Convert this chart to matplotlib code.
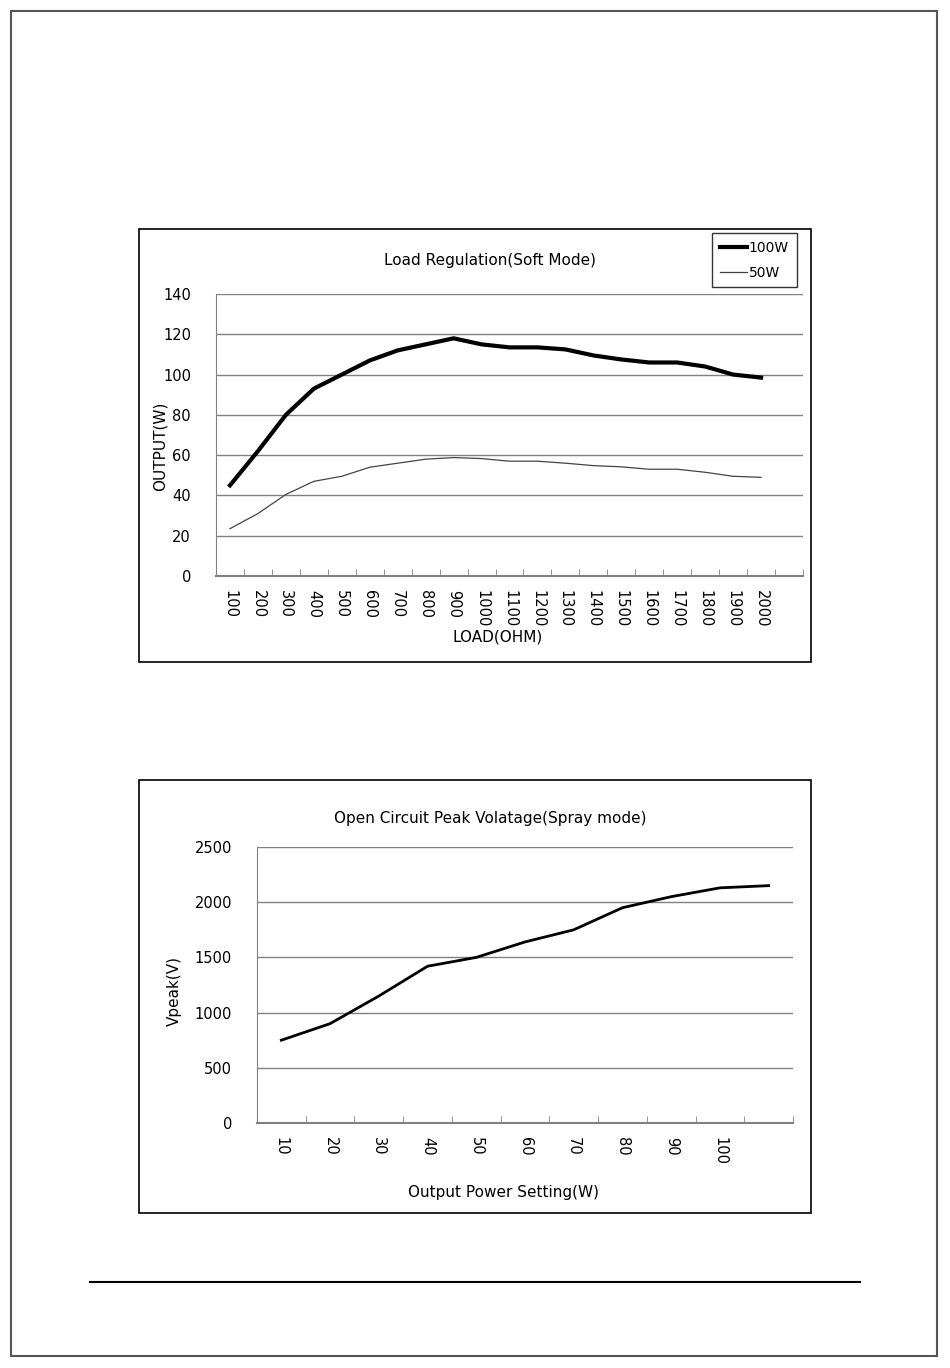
import numpy as np
import matplotlib
matplotlib.use("Agg")
import matplotlib.pyplot as plt
from matplotlib.patches import Rectangle
from matplotlib.lines import Line2D

plt.rcParams['font.family'] = ['DejaVu Sans']

# Chart 1: load regulation
load_labels = ['100', '200', '300', '400', '500', '600', '700', '800', '900', '1000',
               '1100', '1200', '1300', '1400', '1500', '1600', '1700', '1800', '1900', '2000', '']
out_100w = [45, 62, 80, 93, 100, 107, 112, 115, 118, 115,
            113.5, 113.5, 112.5, 109.5, 107.5, 106, 106, 104, 100, 98.5]
out_50w = [23.5, 31, 40.5, 47, 49.5, 54, 56, 58, 58.8, 58.3,
           57, 57, 56, 54.8, 54.2, 53, 53, 51.5, 49.5, 49]

# Chart 2: open circuit peak voltage
power_labels = ['10', '20', '30', '40', '50', '60', '70', '80', '90', '100', '']
vpeak = [750, 900, 1150, 1420, 1500, 1640, 1750, 1950, 2050, 2130, 2150]

W, H = 950, 1368
fig = plt.figure(figsize=(W / 100, H / 100), dpi=100)


def box(x0, y0, x1, y1):
    # pixel box (top-left origin) -> figure fraction
    return [x0 / W, 1 - y1 / H, (x1 - x0) / W, (y1 - y0) / H]


def frame(x0, y0, x1, y1, color='black', lw=1.0):
    fig.add_artist(Rectangle((x0 / W, 1 - y1 / H), (x1 - x0) / W, (y1 - y0) / H,
                             transform=fig.transFigure, fill=False, ec=color, lw=lw))


def style_axes(ax, n, ymax, ystep):
    ax.set_xlim(0, n)
    ax.set_ylim(0, ymax)
    ax.set_yticks(np.arange(0, ymax + 1, ystep))
    ax.yaxis.grid(True, color='#808080', lw=1.0)
    ax.set_axisbelow(True)
    for s in ['top', 'right']:
        ax.spines[s].set_visible(False)
    ax.spines['left'].set_color('#808080')
    ax.spines['bottom'].set_color('#808080')
    ax.spines['bottom'].set_linewidth(1.5)
    ax.tick_params(axis='y', length=0, labelsize=10.5, pad=18)
    # boundary ticks pointing up
    ax.set_xticks(np.arange(1, n + 1), minor=True)
    ax.tick_params(axis='x', which='minor', direction='in', length=5, color='#808080')
    ax.tick_params(axis='x', which='major', length=0, labelsize=10.5, pad=10)
    ax.set_xticks(np.arange(n) + 0.5)


# page border and footer line
frame(11, 11, 937, 1356, color='#555555', lw=1.5)
fig.add_artist(Line2D([90 / W, 860 / W], [1 - 1282 / H, 1 - 1282 / H],
                      transform=fig.transFigure, color='black', lw=1.5))

# ---- top chart ----
frame(139, 229, 811, 662, lw=1.2)
ax1 = fig.add_axes(box(216, 294, 803, 576))
n1 = len(load_labels)
xs1 = np.arange(len(out_100w)) + 0.5
ax1.plot(xs1, out_100w, color='black', lw=3.0, label='100W')
ax1.plot(xs1, out_50w, color='#444444', lw=0.9, label='50W')
style_axes(ax1, n1, 140, 20)
ax1.set_xticklabels(load_labels, rotation=270, va='top', ha='center')
ax1.set_ylabel('OUTPUT(W)', fontsize=11)
ax1.yaxis.set_label_coords(-0.082, 0.46)
ax1.set_xlabel('LOAD(OHM)', fontsize=11)
ax1.xaxis.set_label_coords(0.48, -0.19)
fig.text(490 / W, 1 - 260 / H, 'Load Regulation(Soft Mode)', ha='center', va='center', fontsize=11)
leg = fig.legend(handles=ax1.get_lines(), loc='upper left',
                 bbox_to_anchor=(712 / W, 1 - 233 / H), frameon=True, fancybox=False,
                 edgecolor='black', fontsize=10, handlelength=2.0, handletextpad=0.1,
                 borderpad=0.55, labelspacing=0.8, borderaxespad=0)
leg.get_frame().set_linewidth(1.0)

# ---- bottom chart ----
frame(139, 780, 811, 1213, lw=1.2)
ax2 = fig.add_axes(box(257, 847, 793, 1123))
n2 = len(power_labels)
xs2 = np.arange(len(vpeak)) + 0.5
ax2.plot(xs2, vpeak, color='black', lw=2.0)
style_axes(ax2, n2, 2500, 500)
ax2.set_xticklabels(power_labels, rotation=270, va='top', ha='center')
ax2.set_ylabel('Vpeak(V)', fontsize=11)
ax2.yaxis.set_label_coords(-0.14, 0.48)
ax2.set_xlabel('Output Power Setting(W)', fontsize=11)
ax2.xaxis.set_label_coords(0.46, -0.225)
fig.text(490 / W, 1 - 818 / H, 'Open Circuit Peak Volatage(Spray mode)', ha='center', va='center', fontsize=11)

fig.savefig('out.png', dpi=100)
